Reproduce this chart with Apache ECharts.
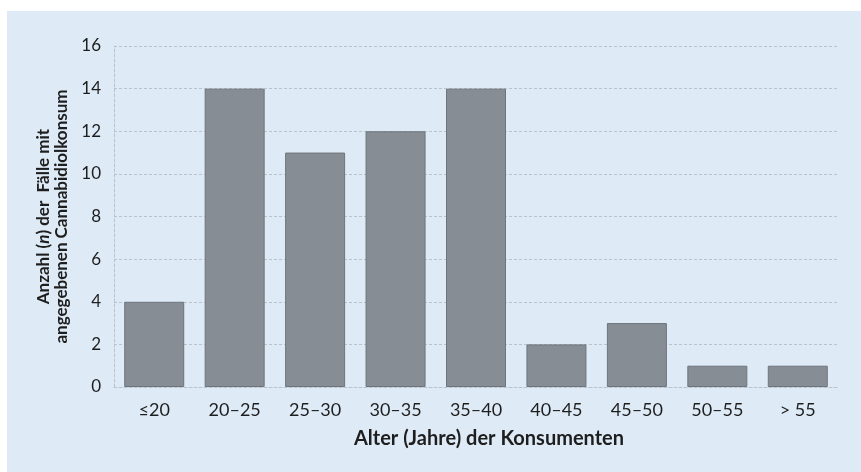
<!DOCTYPE html>
<html>
<head>
<meta charset="utf-8">
<style>
  html, body { margin: 0; padding: 0; background: #ffffff; }
  #chart { width: 861px; height: 472px; }
</style>
<script src="https://cdn.jsdelivr.net/npm/echarts@6/dist/echarts.min.js"></script>
</head>
<body>
<div id="chart"></div>
<script>
// Age groups of consumers and number of reported cases
const ageGroups = ['≤20', '20–25', '25–30', '30–35', '35–40', '40–45', '45–50', '50–55', '> 55'];
const caseCounts = [4, 14, 11, 12, 14, 2, 3, 1, 1];
const yTicks = { min: 0, max: 16, interval: 2 };

const FONT = 'Lato, "Open Sans", sans-serif';
const TEXT = '#1e1e1e';
const GRID_LINE = { color: '#b9c3ce', width: 1, type: [3, 2] };

const chart = echarts.init(document.getElementById('chart'), null, { renderer: 'canvas' });

chart.setOption({
  backgroundColor: '#ffffff',
  animation: false,
  textStyle: { fontFamily: FONT },
  graphic: [{
    type: 'rect',
    z: -10,
    silent: true,
    shape: { x: 7, y: 11, width: 854, height: 461 },
    style: { fill: '#deebf7' }
  }],
  grid: { left: 114, right: 23, top: 46, bottom: 85 },
  xAxis: {
    type: 'category',
    data: ageGroups,
    axisLine: { show: true, lineStyle: GRID_LINE },
    axisTick: { show: false },
    axisLabel: { color: TEXT, fontSize: 18, margin: 14, fontFamily: FONT },
    name: 'Alter (Jahre) der Konsumenten',
    nameLocation: 'middle',
    nameGap: 42,
    nameTextStyle: { color: TEXT, fontSize: 20, fontWeight: 'bold', fontFamily: FONT, padding: [0, 0, 0, 26] }
  },
  yAxis: {
    type: 'value',
    min: yTicks.min,
    max: yTicks.max,
    interval: yTicks.interval,
    axisLine: { show: true, lineStyle: GRID_LINE },
    axisTick: { show: false },
    splitLine: { show: true, lineStyle: GRID_LINE },
    axisLabel: { color: TEXT, fontSize: 17, margin: 13, fontFamily: FONT },
    name: 'Anzahl ({i|n}) der  Fälle mit\nangegebenen Cannabidiolkonsum',
    nameLocation: 'middle',
    nameRotate: 90,
    nameGap: 33,
    nameTextStyle: {
      color: TEXT, fontSize: 17, fontWeight: 'bold', fontFamily: FONT, lineHeight: 18, align: 'center',
      rich: { i: { fontStyle: 'italic', fontWeight: 'bold', fontSize: 17, fontFamily: FONT, color: TEXT, lineHeight: 18 } }
    }
  },
  series: [{
    type: 'bar',
    data: caseCounts,
    barWidth: 60,
    itemStyle: { color: '#878d95', borderColor: '#6e747b', borderWidth: 1 }
  }]
});
</script>
</body>
</html>
